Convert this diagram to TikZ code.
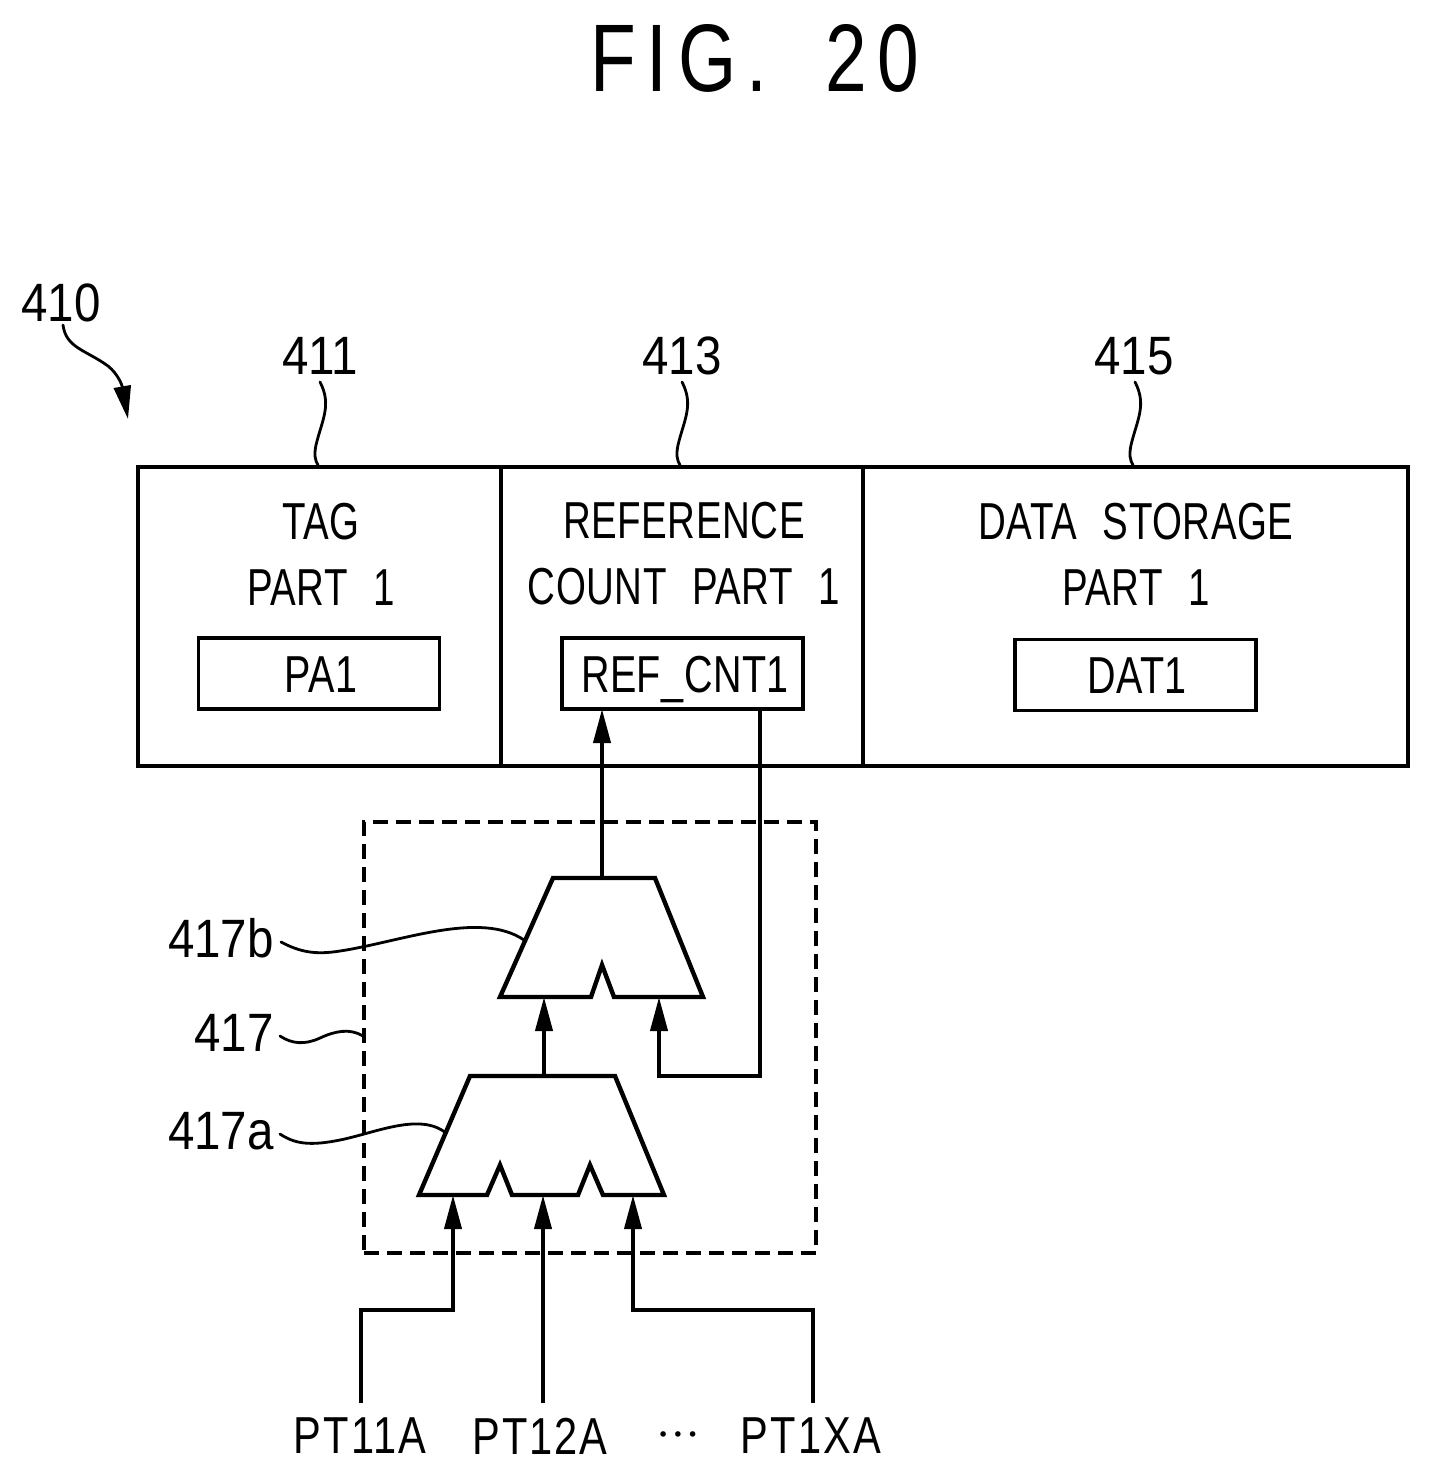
\documentclass[tikz,border=0pt]{standalone}
\usepackage{fontspec}
\usetikzlibrary{arrows.meta}
\newfontfamily\titlefont[FakeStretch=0.78,LetterSpace=11,WordSpace=1.85]{Liberation Sans}
\newfontfamily\boxfont[FakeStretch=0.74,LetterSpace=1,WordSpace=2.3]{Liberation Sans}
\newfontfamily\innerfont[FakeStretch=0.76,LetterSpace=1]{Liberation Sans}
\newfontfamily\sigfont[FakeStretch=0.80,LetterSpace=4]{Liberation Sans}
\newfontfamily\numfont[FakeStretch=0.88]{Liberation Sans}
\newfontfamily\dotfont{DejaVu Sans}
\begin{document}
\begin{tikzpicture}[x=1pt,y=-1pt,
  cell/.style={draw,line width=3.8pt,rectangle,inner sep=0,outer sep=0},
  innerbox/.style={draw,line width=3.8pt,rectangle,inner sep=0,outer sep=0,minimum width=241pt,minimum height=71pt},
  celltext/.style={inner sep=0,align=center,font=\boxfont\fontsize{52}{66}\selectfont,anchor=center},
  boxtext/.style={inner sep=0,text height=37pt,text depth=0pt,font=\innerfont\fontsize{52}{60}\selectfont},
  reftext/.style={inner sep=0,font=\numfont\fontsize{54}{60}\selectfont},
  sigtext/.style={inner sep=0,font=\sigfont\fontsize{52}{60}\selectfont},
  wire/.style={line width=4pt,line join=miter},
  arrowwire/.style={wire,-{Triangle[length=34pt,width=17pt]}},
  mux/.style={line width=4.4pt,line join=miter},
  lead/.style={line width=2.8pt,line cap=round}]
\useasboundingbox (0,0) rectangle (1433,1478);
\fill[white] (0,0) rectangle (1433,1478);

% title
\node[inner sep=0,font=\titlefont\fontsize{96}{100}\selectfont] (title) at (755,58) {FIG. 20};

% reference numerals
\node[reftext] (n410) at (61,303) {410};
\node[reftext] (n411) at (320,356) {411};
\node[reftext] (n413) at (682,356) {413};
\node[reftext] (n415) at (1134,356) {415};
\node[reftext,anchor=east] (n417b) at (274,938) {417b};
\node[reftext,anchor=east] (n417) at (274,1033) {417};
\node[reftext,anchor=east] (n417a) at (274,1131) {417a};

% storage cells
\node[cell,minimum width=363pt,minimum height=299pt] (tag) at (319.5,616.5) {};
\node[cell,minimum width=362pt,minimum height=299pt] (refc) at (682,616.5) {};
\node[cell,minimum width=545pt,minimum height=299pt] (data) at (1135.5,616.5) {};
\node[celltext] (tagt) at (321,554) {TAG\\PART 1};
\node[celltext] (reft) at (684,554) {REFERENCE\\COUNT PART 1};
\node[celltext] (datat) at (1136,554) {DATA STORAGE\\PART 1};
\node[innerbox] (pa) at (319,673.5) {};
\node[innerbox] (cnt) at (682.5,673.5) {};
\node[innerbox] (dat) at (1135.5,675) {};
\node[boxtext] at (321,674) {PA1};
\node[boxtext] at (685,674) {REF\_CNT1};
\node[boxtext] at (1137,675) {DAT1};

% dashed enclosure 417
\node[draw,dashed,dash pattern=on 15pt off 8pt,line width=3.2pt,rectangle,inner sep=0,outer sep=0,minimum width=452pt,minimum height=431pt] (enc) at (590,1037.5) {};

% multiplexers
\coordinate (bTop) at (602,878);
\coordinate (bIn1) at (544,997);
\coordinate (bIn2) at (659,997);
\coordinate (aTop) at (544,1076);
\coordinate (aIn1) at (453,1195);
\coordinate (aIn2) at (543,1195);
\coordinate (aIn3) at (633,1195);
\draw[mux] (553,878) -- (655,878) -- (703,997) -- (614,997) -- (602,965) -- (591,997) -- (500,997) -- cycle;
\draw[mux] (470,1076) -- (615,1076) -- (664,1195) -- (603,1195) -- (590,1165) -- (578,1195) -- (512,1195) -- (500,1165) -- (487,1195) -- (419,1195) -- cycle;

% connectors
\coordinate (cntIn) at (602,709);
\coordinate (cntOut) at (760,709);
\coordinate (fbCorner1) at (760,1076);
\coordinate (fbCorner2) at (659,1076);
\coordinate (s1) at (361,1403);
\coordinate (s1c) at (361,1310);
\coordinate (s1d) at (453,1310);
\coordinate (s2) at (543,1403);
\coordinate (s3) at (813,1403);
\coordinate (s3c) at (813,1310);
\coordinate (s3d) at (633,1310);
\draw[arrowwire] (bTop) -- (cntIn);
\draw[arrowwire] (cntOut) -- (fbCorner1) -- (fbCorner2) -- (bIn2);
\draw[arrowwire] (aTop) -- (bIn1);
\draw[arrowwire] (s1) -- (s1c) -- (s1d) -- (aIn1);
\draw[arrowwire] (s2) -- (aIn2);
\draw[arrowwire] (s3) -- (s3c) -- (s3d) -- (aIn3);

% input labels
\node[sigtext] (p1) at (360,1436) {PT11A};
\node[sigtext] (p2) at (540,1436) {PT12A};
\node[sigtext] (p3) at (811,1436) {PT1XA};
\node[inner sep=0,font=\dotfont\fontsize{19}{20}\selectfont] (dots) at (678,1437) {•\kern3.5pt•\kern3.5pt•};

% lead lines
\draw[lead,-{Triangle[length=33pt,width=17pt]}] (63,325) .. controls (66,348) and (86,350) .. (108,366) .. controls (118,374) and (122,385) .. (128,419);
\draw[lead] (320,382) .. controls (332,405) and (322,420) .. (316,445) .. controls (314,455) and (315,460) .. (318,465);
\draw[lead] (682,382) .. controls (694,405) and (684,420) .. (678,445) .. controls (676,455) and (677,460) .. (680,465);
\draw[lead] (1135,382) .. controls (1147,405) and (1137,420) .. (1131,445) .. controls (1129,455) and (1130,460) .. (1133,465);
\draw[lead] (281,942) .. controls (300,952) and (315,955) .. (340,951) .. controls (400,942) and (480,910) .. (524,940);
\draw[lead] (280,1036) .. controls (292,1044) and (305,1045) .. (320,1038) .. controls (335,1031) and (350,1028) .. (363,1036);
\draw[lead] (280,1134) .. controls (295,1144) and (310,1146) .. (340,1140) .. controls (375,1133) and (420,1112) .. (446,1133);
\end{tikzpicture}
\end{document}
